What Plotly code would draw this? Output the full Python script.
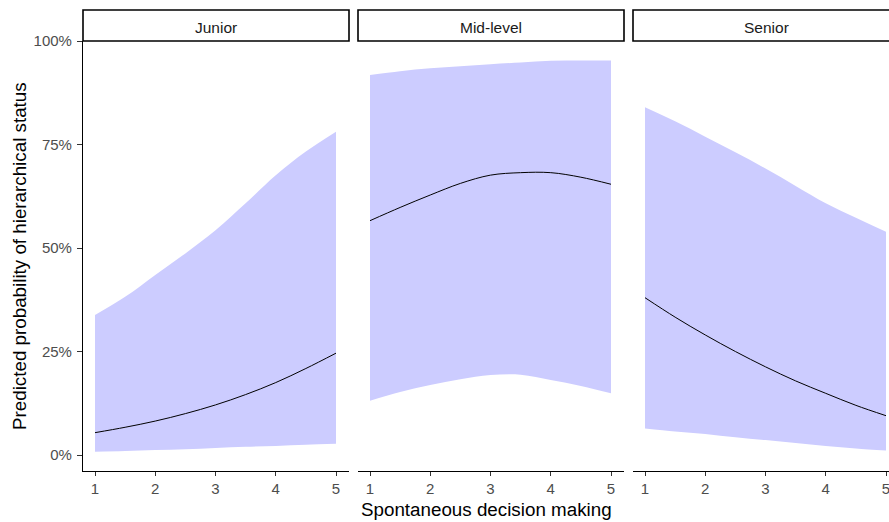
import plotly.graph_objects as go

x_vals = [1, 1.5, 2, 2.5, 3, 3.5, 4, 4.5, 5]
panels = ["Junior", "Mid-level", "Senior"]

junior_fit = [5.4, 6.7, 8.2, 10.0, 12.1, 14.6, 17.5, 20.9, 24.6]
junior_upper = [33.8, 38.2, 43.5, 48.7, 54.3, 60.8, 67.6, 73.3, 78.1]
junior_lower = [0.8, 1.0, 1.2, 1.4, 1.7, 2.0, 2.2, 2.5, 2.7]

mid_fit = [56.6, 59.8, 62.8, 65.6, 67.6, 68.2, 68.2, 67.1, 65.4]
mid_upper = [91.8, 92.7, 93.4, 93.9, 94.4, 94.8, 95.2, 95.3, 95.3]
mid_lower = [13.1, 15.2, 16.9, 18.3, 19.3, 19.4, 18.1, 16.7, 14.9]

senior_fit = [38.0, 33.3, 29.0, 25.0, 21.3, 17.9, 14.9, 12.0, 9.5]
senior_upper = [84.0, 80.6, 76.9, 73.1, 69.2, 65.0, 60.8, 57.3, 53.9]
senior_lower = [6.4, 5.7, 5.1, 4.3, 3.6, 2.9, 2.2, 1.6, 1.1]

y_ticks = [0, 0.25, 0.5, 0.75, 1.0]
x_ticks = [1, 2, 3, 4, 5]

series = [
    (junior_fit, junior_lower, junior_upper),
    (mid_fit, mid_lower, mid_upper),
    (senior_fit, senior_lower, senior_upper),
]

W, H = 889, 522
ml, mr, mt, mb = 83, 0, 41, 51
pw = W - ml - mr
ph = H - mt - mb
px_per_unit = 60.25

# pixel extents of panels (third panel runs past the right edge)
panel_px = [(83, 349), (358, 624), (633, 899)]

FONT = "Liberation Sans, Arial, sans-serif"
BAND = "rgb(204,204,255)"
TICK_SIZE = 15
TITLE_SIZE = 18.8
STRIP_SIZE = 15.5

fig = go.Figure()
layout = dict(
    width=W, height=H,
    margin=dict(l=ml, r=mr, t=mt, b=mb, pad=0),
    paper_bgcolor="white", plot_bgcolor="white",
    showlegend=False,
    font=dict(family=FONT, color="#4d4d4d", size=12),
)

shapes = []
annotations = []
for i, (name, (fit, lo, up)) in enumerate(zip(panels, series)):
    xa = "x" if i == 0 else f"x{i+1}"
    ya = "y" if i == 0 else f"y{i+1}"
    lo_f = [v / 100 for v in lo]
    up_f = [v / 100 for v in up]
    fit_f = [v / 100 for v in fit]
    fig.add_trace(go.Scatter(x=x_vals, y=lo_f, mode="lines", line=dict(width=0, shape="spline", color=BAND),
                             xaxis=xa, yaxis=ya, hoverinfo="skip"))
    fig.add_trace(go.Scatter(x=x_vals, y=up_f, mode="lines", line=dict(width=0, shape="spline", color=BAND),
                             fill="tonexty", fillcolor=BAND, xaxis=xa, yaxis=ya, hoverinfo="skip"))
    fig.add_trace(go.Scatter(x=x_vals, y=fit_f, mode="lines", line=dict(width=1, shape="spline", color="black"),
                             xaxis=xa, yaxis=ya))

    p0, p1 = panel_px[i]
    d0 = (p0 - ml) / pw
    d1 = min(1.0, (p1 - ml) / pw)
    vis_px = min(p1, W) - p0
    x_lo = 1 - (95 - 83) / px_per_unit
    x_hi = x_lo + vis_px / px_per_unit
    key_x = "xaxis" if i == 0 else f"xaxis{i+1}"
    key_y = "yaxis" if i == 0 else f"yaxis{i+1}"
    layout[key_x] = dict(
        domain=[d0, d1], range=[x_lo, x_hi], anchor=ya,
        tickvals=x_ticks, ticks="outside", ticklen=4, tickcolor="#333333", tickwidth=1,
        showline=True, linecolor="black", linewidth=1.1, showgrid=False, zeroline=False,
        tickfont=dict(family=FONT, size=TICK_SIZE, color="#4d4d4d"), fixedrange=True,
        ticklabeloverflow="allow",
    )
    layout[key_y] = dict(
        domain=[0, 1], range=[-0.0386, 1.0], anchor=xa,
        tickvals=y_ticks, tickformat=".0%", showgrid=False, zeroline=False,
        showline=(i == 0), linecolor="black", linewidth=1.1,
        ticks="outside" if i == 0 else "", ticklen=5, tickcolor="#333333",
        showticklabels=(i == 0), tickfont=dict(family=FONT, size=TICK_SIZE, color="#4d4d4d"),
        fixedrange=True, ticklabelstandoff=2,
    )
    if i > 0:
        layout[key_y]["matches"] = "y"

    # strip box
    sx0 = (p0 - ml) / pw
    sx1 = (p1 - ml) / pw
    shapes.append(dict(type="rect", xref="paper", yref="paper",
                       x0=sx0, x1=sx1, y0=1.0, y1=1.0 + 31 / ph,
                       line=dict(color="black", width=1.6), fillcolor="white", layer="above"))
    annotations.append(dict(text=name, xref="paper", yref="paper",
                            x=(sx0 + sx1) / 2, y=1.0 + 13.5 / ph,
                            xanchor="center", yanchor="middle", showarrow=False,
                            font=dict(family=FONT, size=STRIP_SIZE, color="#1a1a1a")))

annotations.append(dict(text="Spontaneous decision making", xref="paper", yref="paper",
                        x=(486 - ml) / pw, y=-(509 - (H - mb)) / ph,
                        xanchor="center", yanchor="middle", showarrow=False,
                        font=dict(family=FONT, size=TITLE_SIZE, color="black")))
annotations.append(dict(text="Predicted probability of hierarchical status", xref="paper", yref="paper",
                        x=-(ml - 19) / pw, y=(H - mb - 256) / ph,
                        xanchor="center", yanchor="middle", textangle=-90, showarrow=False,
                        font=dict(family=FONT, size=TITLE_SIZE, color="black")))

layout["shapes"] = shapes
layout["annotations"] = annotations
fig.update_layout(**layout)
fig.write_html("out.html")
